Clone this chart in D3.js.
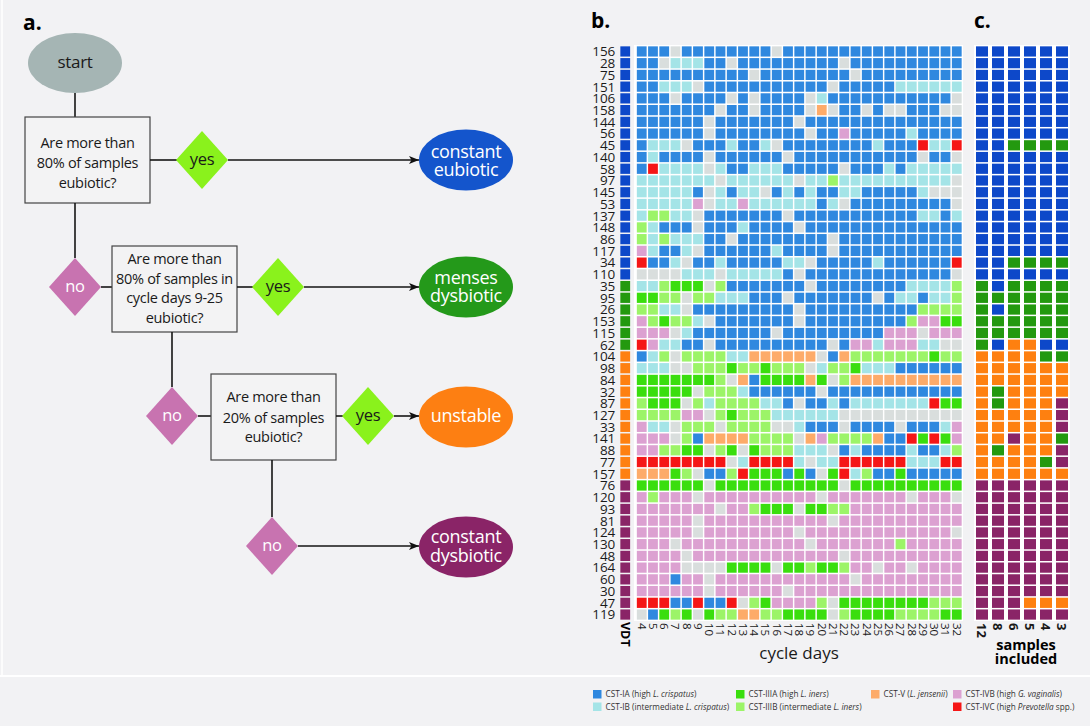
<!DOCTYPE html>
<html>
<head>
<meta charset="utf-8">
<script src="https://cdn.jsdelivr.net/npm/d3@7"></script>
<style>
  body { margin: 0; background: #f2f2f4; }
  svg { display: block; font-family: "Open Sans", sans-serif; }
</style>
</head>
<body>
<div id="chart"></div>
<script>
// ---- data ----
const rowIds = ['156', '28', '75', '151', '106', '158', '144', '56', '45', '140', '58', '97', '145', '53', '137', '148', '86', '117', '34', '110',
  '35', '95', '26', '153', '115', '62',
  '104', '98', '84', '32', '87', '127', '33', '141', '88', '77', '157',
  '76', '120', '93', '81', '124', '130', '48', '164', '60', '30', '47', '119'];

const cycleDays = [4, 5, 6, 7, 8, 9, 10, 11, 12, 13, 14, 15, 16, 17, 18, 19, 20, 21, 22, 23, 24, 25, 26, 27, 28, 29, 30, 31, 32];

// VDT group per row: e = constant eubiotic, m = menses dysbiotic, u = unstable, d = constant dysbiotic
const vdtGroups = 'eeeeeeeeeeeeeeeeeeeemmmmmmuuuuuuuuuuudddddddddddd';

// CST per row and cycle day: A=IA, B=IB, C=IIIA, D=IIIB, V=V, G=IVB, R=IVC, N=no sample
const cstRows = [
  'AAANAAAAAAAANAAAAAAAAAAAAAAAA',
  'AANBBBAANAAAAAAAAANAAAAAAAAAA',
  'AAAAAAAAAANAAAAAAAANAAAAAAAAA',
  'AABBBNAAAAAAAAAAANAAAAABBBBBB',
  'AAANAAAANANAAAANBAAAAAAAAAAAN',
  'AAAAAAANAANAAAANVNAANANNAAANN',
  'AAAAAANAAAAAAANAAAAAAAAAAAAAA',
  'AAAAAANAAAAAAAANAAGAAAAABAAAA',
  'ABBBNAAABAABNAAAAAAAABAAARBBR',
  'ABAAAANAAAAAANAAAAAAAAAAANAAN',
  'ARBBBBNBAABBBAAAAANAAABABBBBB',
  'BBBBBBBNBBBBBBNBBDBBBBBBBBBBN',
  'BBBBBANBABBNABABAABBAAAAABNNN',
  'BBBBBGNBBGBBBBBBABNAAAAAAAAAN',
  'BDDBBNAAAAAAANAAAAAAAAAAABBAB',
  'DBAAANAAABAAAANAAAAAAAAAAAAAA',
  'DBDBBBAANAAAAAAAANAAAAAAAAAAA',
  'GBAABNAAAAAABAAAANAAAAAAAAAAA',
  'RAABNAABAAAAABBNAAAAABAAAAAAR',
  'NNNNBBBNBBBBBANAAAAAAAAAAAAAN',
  'BBDCCCNDAAAAAAANAAAAAAAABBBBD',
  'CCDDNDDBBBAAANAAAAAAANABBABBD',
  'DDBBNAAAAAAAAANAAAAAAAAAADDDD',
  'GDCDDBNAAAAAAANAAAAAAAAADGGCC',
  'GGGNBAAAAAAANAAAAAAAAAGGGNGGG',
  'RGBBAANAAAAAAAAAANAGGBGGGBBNN',
  'ABDNDDDDBBVVVVVVNAVDDDDDDDCDD',
  'BBBNNDDDCDDCDDDNBDDCBBBAAAAAA',
  'CCCCCCCDNVACCCCVCNDVVVVVVVVVV',
  'CCCCCNDDDBAAAAAANAAAAAAAAAAAA',
  'DCCCNDBDDDDBBANAABABBBBBBBRCC',
  'DDDDGGNDCDDDBBBBBBNNNNNNNNNNN',
  'GBBNDDDNDDDDNNBAAANAAAANAAABG',
  'GGGNDAVVVVDDDDNVGDDDDVAARCRCG',
  'GGDDCCNDCNCDDDBBBNABAAAABAABD',
  'RRRRRRRRNBRRRRBNBBRRRRRRBBBRR',
  'VVVCDNAADRCCCACANCRBDAACAAAAA',
  'CCCCCCNCCCCCCCCCCCNCCCCCCCCCC',
  'GDGGGNGGGGGGGGGGNGGGGGGGNGGGN',
  'GGGGGGGNGGDCCCNCCDDGGGGGGGGGG',
  'GGGGGNGGGGGGGGGGGNGGGGGGGGGGG',
  'GGGGGNGGGGGGGGNGGGGGGGGGGGGGN',
  'GGGNGGGGGGGGGGGNGGGGGGGDGGGGG',
  'GGGGNGGGGGGGGGGGGGNGGGGGGGGGG',
  'GGGGNNNNCCCCNCCDCCDGGNGGNGGGG',
  'GGGAGGNGGGGGGGGGGGGNGGGGGGGGG',
  'GGGGGGNGGGGGGNGGGGGGGGGGGGGGG',
  'RRRAARAARNDCGGGGDNCCCCCCCCDDD',
  'NACDCNCDDVVDDCCCCNDCCCCDDDDCC'
];

// panel c: VDT group when only n samples per cycle are used
const sampleCounts = ['12', '8', '6', '5', '4', '3'];
const subsampleRows = [
  'eeeeee', 'eeeeee', 'eeeeee', 'eeeeee', 'eeeeee', 'eeeeee', 'eeeeee', 'eeeeee',
  'eemmmm', 'eeeeee', 'eeeeee', 'eeeeee', 'eeeeee', 'eeeeee', 'eeeeee', 'eeeeee',
  'eeeeee', 'eeeeee', 'eemmmm', 'eeeeee',
  'memmmm', 'mmmmmm', 'memmmm', 'mmmmmm', 'mmmmmm', 'meuuee',
  'uuuumm', 'uuuuuu', 'uuuuuu', 'umuuuu', 'umuuud', 'uuuuud', 'uuuuud', 'uuduum',
  'umuuud', 'uuuumd', 'uuuuuu',
  'dddddd', 'dddddd', 'dddddd', 'dddddd', 'dddddd', 'dddddd', 'dddddd', 'dddddd',
  'dddddd', 'dddddd', 'ddduuu', 'dddddd'
];

const cstCodes = ['A', 'B', 'C', 'D', 'V', 'G', 'R', 'N'];
const cstColors = ['#2f88df', '#a4e4e7', '#3ade0e', '#9cf468', '#fdab69', '#dca1d1', '#f51616', '#d9dedd'];
const groupCodes = ['e', 'm', 'u', 'd'];
const groupColors = ['#0d48c9', '#23990f', '#fe8010', '#8a2467'];

const legendLabels = [
  [['CST-IA (high ', false], ['L. crispatus', true], [')', false]],
  [['CST-IB (intermediate ', false], ['L. crispatus', true], [')', false]],
  [['CST-IIIA (high ', false], ['L. iners', true], [')', false]],
  [['CST-IIIB (intermediate ', false], ['L. iners', true], [')', false]],
  [['CST-V (', false], ['L. jensenii', true], [')', false]],
  [['CST-IVB (high ', false], ['G. vaginalis', true], [')', false]],
  [['CST-IVC (high ', false], ['Prevotella', true], [' spp.)', false]]
];

// ---- chart ----
const W = 1090, H = 726;
const cst = d3.scaleOrdinal().domain(cstCodes).range(cstColors);
const grp = d3.scaleOrdinal().domain(groupCodes).range(groupColors);

const svg = d3.select('#chart').append('svg').attr('width', W).attr('height', H);
svg.append('rect').attr('width', W).attr('height', H).attr('fill', '#f2f2f4');
svg.append('line').attr('x1', 0).attr('x2', W).attr('y1', 676).attr('y2', 676)
  .attr('stroke', '#ffffff').attr('stroke-width', 2);
svg.append('line').attr('x1', 2).attr('x2', 2).attr('y1', 0).attr('y2', 676)
  .attr('stroke', '#ffffff').attr('stroke-width', 1.5);

// panel labels
svg.append('text').attr('x', 23).attr('y', 30).attr('font-size', 21).attr('font-weight', 700).text('a.');
svg.append('text').attr('x', 591).attr('y', 28).attr('font-size', 21).attr('font-weight', 700).text('b.');
svg.append('text').attr('x', 974).attr('y', 28).attr('font-size', 21).attr('font-weight', 700).text('c.');

// ---- panel b: heatmap ----
const x = d3.scaleBand().domain(cycleDays).range([636.5, 962]).paddingInner(0.13).paddingOuter(0.03);
const y = d3.scaleBand().domain(rowIds).range([46, 620]).paddingInner(0.13).paddingOuter(0.03);
const vdtX = x(cycleDays[0]) - 16.5;

svg.append('rect').attr('x', 634).attr('y', 45).attr('width', 329).attr('height', 576).attr('fill', '#ffffff');

const rowsG = svg.append('g').selectAll('g').data(rowIds).join('g')
  .attr('transform', d => `translate(0,${y(d)})`);

rowsG.selectAll('rect.cell')
  .data((d, i) => cstRows[i].split('').map((c, j) => ({ day: cycleDays[j], c })))
  .join('rect')
  .attr('class', 'cell')
  .attr('x', d => x(d.day))
  .attr('width', x.bandwidth())
  .attr('height', y.bandwidth())
  .attr('fill', d => cst(d.c));

rowsG.append('rect')
  .attr('x', vdtX)
  .attr('width', x.bandwidth())
  .attr('height', y.bandwidth())
  .attr('fill', (d, i) => grp(vdtGroups[i]));

const yAxis = svg.append('g').attr('transform', `translate(${vdtX - 5},0)`)
  .call(d3.axisLeft(y).tickSize(0).tickPadding(0));
yAxis.select('.domain').remove();
yAxis.selectAll('text').attr('font-size', 13.5).attr('font-family', '"Open Sans", sans-serif')
  .attr('fill', '#1a1a1a').attr('dy', '0.36em');

const xAxis = svg.append('g').attr('transform', 'translate(0,622)')
  .call(d3.axisBottom(x).tickSize(0).tickPadding(0));
xAxis.select('.domain').remove();
xAxis.selectAll('text')
  .attr('transform', 'rotate(90)')
  .attr('x', 1).attr('y', 0).attr('dy', '0.36em')
  .attr('text-anchor', 'start')
  .attr('font-size', 11.5).attr('font-family', '"Open Sans", sans-serif').attr('fill', '#1a1a1a');

svg.append('text')
  .attr('transform', `translate(${vdtX + x.bandwidth() / 2},622) rotate(90)`)
  .attr('dy', '0.36em').attr('font-size', 12.5).attr('font-weight', 700).text('VDT');

svg.append('text').attr('x', 799).attr('y', 659).attr('text-anchor', 'middle')
  .attr('font-size', 17).attr('fill', '#1a1a1a').text('cycle days');

// ---- panel c ----
const xs = d3.scaleBand().domain(sampleCounts).range([974, 1070]).paddingInner(0.25).paddingOuter(0.125);
svg.append('rect').attr('x', 974).attr('y', 45).attr('width', 96).attr('height', 576).attr('fill', '#ffffff');

const rowsC = svg.append('g').selectAll('g').data(rowIds).join('g')
  .attr('transform', d => `translate(0,${y(d)})`);
rowsC.selectAll('rect')
  .data((d, i) => subsampleRows[i].split('').map((g, j) => ({ n: sampleCounts[j], g })))
  .join('rect')
  .attr('x', d => xs(d.n))
  .attr('width', xs.bandwidth())
  .attr('height', y.bandwidth())
  .attr('fill', d => grp(d.g));

const xsAxis = svg.append('g').attr('transform', 'translate(0,622)')
  .call(d3.axisBottom(xs).tickSize(0).tickPadding(0));
xsAxis.select('.domain').remove();
xsAxis.selectAll('text')
  .attr('transform', 'rotate(90)')
  .attr('x', 1).attr('y', 0).attr('dy', '0.36em')
  .attr('text-anchor', 'start')
  .attr('font-size', 13).attr('font-weight', 700)
  .attr('font-family', '"Open Sans", sans-serif').attr('fill', '#1a1a1a');

svg.append('text').attr('x', 1026).attr('y', 650).attr('text-anchor', 'middle')
  .attr('font-size', 14.5).attr('font-weight', 700).text('samples');
svg.append('text').attr('x', 1026).attr('y', 664).attr('text-anchor', 'middle')
  .attr('font-size', 14.5).attr('font-weight', 700).text('included');

// ---- legend ----
const legendX = [593, 736, 871, 953];
const legendSlots = [[0, 0], [0, 1], [1, 0], [1, 1], [2, 0], [3, 0], [3, 1]];
const legend = svg.append('g').selectAll('g').data(legendLabels).join('g')
  .attr('transform', (d, i) => `translate(${legendX[legendSlots[i][0]]},${690 + legendSlots[i][1] * 12.5})`);
legend.append('rect').attr('width', 8.5).attr('height', 8.5)
  .attr('fill', (d, i) => cstColors[i]);
legend.append('text').attr('x', 12.5).attr('y', 4.5).attr('dy', '0.35em')
  .attr('font-size', 8.2).attr('fill', '#333')
  .selectAll('tspan').data(d => d).join('tspan')
  .attr('font-style', d => d[1] ? 'italic' : 'normal')
  .text(d => d[0]);

// ---- panel a: flowchart ----
const fc = svg.append('g');
const defs = svg.append('defs');
defs.append('marker').attr('id', 'arr').attr('viewBox', '0 0 10 10')
  .attr('refX', 10).attr('refY', 5).attr('markerWidth', 10).attr('markerHeight', 10)
  .attr('markerUnits', 'userSpaceOnUse').attr('orient', 'auto')
  .append('path').attr('d', 'M0,1 L10,5 L0,9 L2.5,5 Z').attr('fill', '#111');

function link(x1, y1, x2, y2, arrow) {
  const l = fc.append('line').attr('x1', x1).attr('y1', y1).attr('x2', x2).attr('y2', y2)
    .attr('stroke', '#151515').attr('stroke-width', 1.6);
  if (arrow) l.attr('marker-end', 'url(#arr)');
}
function lines(cx, ys, texts, size, color) {
  texts.forEach((t, i) => {
    fc.append('text').attr('x', cx).attr('y', ys[i]).attr('dy', '0.35em')
      .attr('text-anchor', 'middle').attr('font-size', size).attr('fill', color)
      .attr('letter-spacing', -0.3).text(t);
  });
}
function ellipse(cx, cy, fill, texts, ys, color) {
  fc.append('ellipse').attr('cx', cx).attr('cy', cy).attr('rx', 47).attr('ry', 30.5).attr('fill', fill);
  lines(cx, ys, texts, 18, color);
}
function box(x0, y0, x1, y1, texts, ys) {
  fc.append('rect').attr('x', x0).attr('y', y0).attr('width', x1 - x0).attr('height', y1 - y0)
    .attr('fill', '#f3f3f4').attr('stroke', '#444').attr('stroke-width', 1.2);
  lines((x0 + x1) / 2, ys, texts, 14.5, '#1a1a1a');
}
function diamond(cx, cy, yes) {
  fc.append('path').attr('d', `M${cx - 26},${cy} L${cx},${cy - 29} L${cx + 26},${cy} L${cx},${cy + 29} Z`)
    .attr('fill', yes ? '#8af21c' : '#c873b0');
  lines(cx, [cy - 1], [yes ? 'yes' : 'no'], 16.5, yes ? '#1a1a1a' : '#ffffff');
}

// level 1
link(75, 93, 75, 117);
fc.append('ellipse').attr('cx', 75).attr('cy', 63).attr('rx', 47).attr('ry', 30).attr('fill', '#a5b5b4');
lines(75, [62], ['start'], 17, '#1a1a1a');
box(25, 117, 150, 203, ['Are more than', '80% of samples', 'eubiotic?'], [143, 163, 183]);
link(150, 160, 177, 160);
diamond(202, 160, true);
link(228, 160, 419, 160, true);
ellipse(466, 160, '#1455cc', ['constant', 'eubiotic'], [152, 170], '#ffffff');

// level 2
link(75, 203, 75, 258);
diamond(75, 287, false);
link(101, 287, 112, 287);
box(112, 246, 237, 332, ['Are more than', '80% of samples in', 'cycle days 9-25', 'eubiotic?'], [259, 279, 298, 318]);
link(237, 287, 253, 287);
diamond(278, 287, true);
link(304, 287, 419, 287, true);
ellipse(466, 287, '#24991a', ['menses', 'dysbiotic'], [278, 296], '#ffffff');

// level 3
link(172, 332, 172, 387);
diamond(172, 416, false);
link(198, 416, 211, 416);
box(211, 374, 336, 460, ['Are more than', '20% of samples', 'eubiotic?'], [397, 418, 437]);
link(336, 416, 343, 416);
diamond(368, 416, true);
link(394, 416, 419, 416, true);
ellipse(466, 417, '#fd7f12', ['unstable'], [416], '#ffffff');

// level 4
link(272, 460, 272, 517);
diamond(272, 546, false);
link(298, 546, 419, 546, true);
ellipse(466, 547, '#8a2467', ['constant', 'dysbiotic'], [537, 556], '#ffffff');
</script>
</body>
</html>
